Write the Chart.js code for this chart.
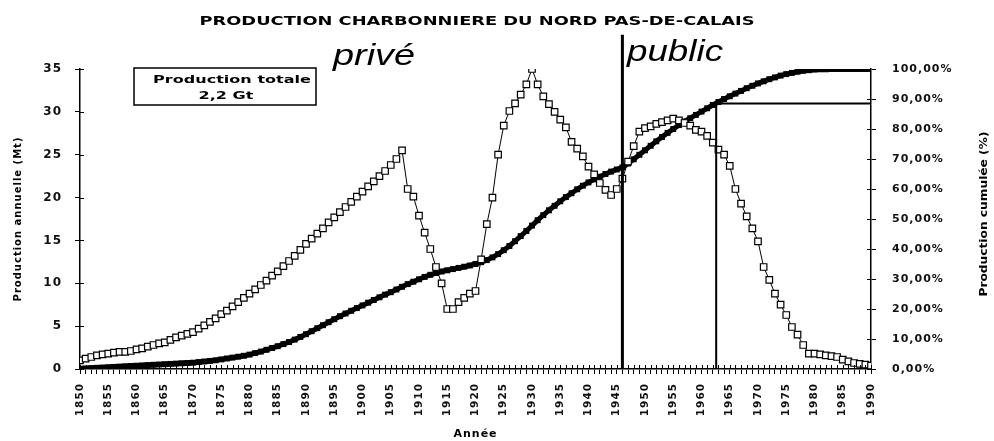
<!DOCTYPE html>
<html>
<head>
<meta charset="utf-8">
<script src="https://cdn.jsdelivr.net/npm/chart.js@4/dist/chart.umd.min.js"></script>
<style>
  html, body { margin: 0; padding: 0; background: #fff; }
  canvas { display: block; }
</style>
</head>
<body>
<canvas id="chart" width="994" height="441"></canvas>
<script>
// years 1850..1990, one value per year
const firstYear = 1850;
const lastYear = 1990;

// annual production (Mt), open squares
const production = [
  1.0, 1.2, 1.4, 1.6, 1.7, 1.8, 1.9, 2.0, 2.0, 2.1,
  2.3, 2.4, 2.6, 2.8, 3.0, 3.1, 3.4, 3.7, 3.9, 4.1,
  4.3, 4.7, 5.1, 5.5, 5.9, 6.4, 6.8, 7.3, 7.8, 8.3,
  8.8, 9.3, 9.8, 10.3, 10.9, 11.4, 12.0, 12.6, 13.2, 13.9,
  14.6, 15.2, 15.8, 16.4, 17.1, 17.7, 18.3, 18.9, 19.5, 20.1,
  20.7, 21.3, 21.9, 22.5, 23.1, 23.8, 24.5, 25.5, 21.0, 20.1,
  17.9, 15.9, 14.0, 11.9, 10.0, 7.0, 7.0, 7.8, 8.3, 8.8,
  9.1, 12.8, 16.9, 20.0, 25.0, 28.4, 30.1, 31.0, 32.0, 33.2,
  35.0, 33.2, 31.8, 30.9, 30.0, 29.1, 28.2, 26.5, 25.7, 24.8,
  23.6, 22.7, 21.7, 20.9, 20.3, 21.0, 22.2, 24.2, 26.0, 27.7,
  28.1, 28.3, 28.6, 28.8, 29.0, 29.2, 29.0, 28.7, 28.4, 27.9,
  27.7, 27.2, 26.4, 25.6, 25.0, 23.7, 21.0, 19.3, 17.8, 16.4,
  14.9, 11.9, 10.4, 8.8, 7.5, 6.3, 4.9, 4.0, 2.8, 1.8,
  1.8, 1.7, 1.6, 1.5, 1.4, 1.1, 0.9, 0.7, 0.6, 0.5,
  0.4
];

// cumulative production (%), filled black curve
const cumulative = [
  0.1, 0.2, 0.3, 0.4, 0.5, 0.6, 0.7, 0.8, 0.9, 1.0,
  1.1, 1.2, 1.3, 1.4, 1.5, 1.6, 1.7, 1.8, 1.9, 2.0,
  2.1, 2.3, 2.5, 2.7, 2.9, 3.2, 3.5, 3.8, 4.1, 4.4,
  4.8, 5.3, 5.8, 6.4, 7.0, 7.6, 8.3, 9.0, 9.8, 10.7,
  11.6, 12.6, 13.6, 14.6, 15.6, 16.6, 17.6, 18.5, 19.4, 20.3,
  21.2, 22.1, 23.0, 23.9, 24.8, 25.6, 26.5, 27.4, 28.3, 29.1,
  29.9, 30.7, 31.4, 32.0, 32.5, 32.9, 33.3, 33.7, 34.1, 34.5,
  35.0, 35.6, 36.3, 37.2, 38.3, 39.6, 41.0, 42.6, 44.3, 46.0,
  47.8, 49.6, 51.3, 52.9, 54.4, 55.9, 57.3, 58.6, 59.9, 61.1,
  62.2, 63.2, 64.1, 65.0, 65.8, 66.5, 67.2, 68.5, 69.9, 71.4,
  72.9, 74.4, 75.9, 77.3, 78.7, 80.0, 81.3, 82.5, 83.6, 84.7,
  85.8, 86.9, 88.0, 89.0, 90.0, 90.9, 91.8, 92.7, 93.6, 94.4,
  95.2, 95.9, 96.6, 97.2, 97.8, 98.3, 98.7, 99.1, 99.4, 99.6,
  99.8, 99.9, 99.9, 100, 100, 100, 100, 100, 100, 100,
  100
];

// reference lines
const nationalisationYear = 1946;   // privé | public
const nationalisationTop = 39;      // Mt, line runs above the frame
const markerYear = 1962.6;
const markerShare = 88.5;           // %

const leftMax = 35, leftStep = 5;
const rightMax = 100, rightStep = 10;

const FONT = 'DejaVu Sans';
Chart.defaults.font.family = FONT;
Chart.defaults.color = '#111';

const points = (arr) => arr.map((v, i) => ({ x: firstYear + i, y: v }));

// wide, slightly spaced lettering like the scanned original
const spacing = {
  id: 'spacing',
  beforeUpdate(chart) { chart.ctx.letterSpacing = '1px'; },
  beforeLayout(chart) { chart.ctx.letterSpacing = '1px'; },
  beforeDraw(chart) {
    const c = chart.ctx;
    c.letterSpacing = '1px';
    c.save();
    c.fillStyle = '#fff';
    c.fillRect(0, 0, chart.width, chart.height);
    c.restore();
  }
};

// tick marks crossing the axes (inner half)
const innerTicks = {
  id: 'innerTicks',
  afterDraw(chart) {
    const c = chart.ctx, a = chart.chartArea;
    c.save();
    c.strokeStyle = '#000';
    c.lineWidth = 1;
    c.beginPath();
    chart.scales.x.ticks.forEach(t => {
      const px = Math.round(chart.scales.x.getPixelForValue(t.value)) + 0.5;
      c.moveTo(px, a.bottom); c.lineTo(px, a.bottom - 4);
    });
    chart.scales.y.ticks.forEach(t => {
      const py = Math.round(chart.scales.y.getPixelForValue(t.value)) + 0.5;
      c.moveTo(a.left, py); c.lineTo(a.left + 4, py);
    });
    chart.scales.y2.ticks.forEach(t => {
      const py = Math.round(chart.scales.y2.getPixelForValue(t.value)) + 0.5;
      c.moveTo(a.right, py); c.lineTo(a.right - 4, py);
    });
    c.stroke();
    c.restore();
  }
};

function stretchText(c, text, x, y, font, width, align) {
  c.save();
  c.font = font;
  c.letterSpacing = '0px';
  const w = c.measureText(text).width;
  c.translate(x, y);
  c.scale(width / w, 1);
  c.textAlign = align;
  c.fillStyle = '#000';
  c.fillText(text, 0, 0);
  c.restore();
}

const labels = {
  id: 'labels',
  afterDraw(chart) {
    const c = chart.ctx;
    stretchText(c, 'PRODUCTION CHARBONNIERE DU NORD PAS-DE-CALAIS', 477, 25, 'bold 13px "' + FONT + '"', 555, 'center');
    stretchText(c, 'privé', 333, 65, 'italic 30px "Liberation Sans"', 82, 'left');
    stretchText(c, 'public', 627, 61, 'italic 30px "Liberation Sans"', 96, 'left');

    c.save();
    c.strokeStyle = '#000';
    c.lineWidth = 1.5;
    c.strokeRect(134, 68, 182, 37);
    c.restore();
    stretchText(c, 'Production totale', 232, 83, 'bold 11px "' + FONT + '"', 158, 'center');
    stretchText(c, '2,2 Gt', 226, 99, 'bold 11px "' + FONT + '"', 55, 'center');

    c.save();
    c.translate(987, 214);
    c.rotate(-Math.PI / 2);
    stretchText(c, 'Production cumulée (%)', 0, 0, 'bold 10px "' + FONT + '"', 165, 'center');
    c.restore();
  }
};

const cfg = {
  type: 'line',
  data: {
    datasets: [
      {
        label: 'nationalisation',
        data: [{ x: nationalisationYear, y: 0 }, { x: nationalisationYear, y: nationalisationTop }],
        yAxisID: 'y',
        borderColor: '#000',
        borderWidth: 3,
        pointRadius: 0,
        clip: false,
        order: 0
      },
      {
        label: 'repère',
        data: [{ x: markerYear, y: 0 }, { x: markerYear, y: markerShare }, { x: lastYear, y: markerShare }],
        yAxisID: 'y2',
        borderColor: '#000',
        borderWidth: 2,
        pointRadius: 0,
        order: 0
      },
      {
        label: 'Production annuelle (Mt)',
        data: points(production),
        yAxisID: 'y',
        borderColor: '#000',
        borderWidth: 1,
        pointStyle: 'rect',
        pointRadius: 4.6,
        pointBorderWidth: 1.2,
        pointBackgroundColor: '#fff',
        pointBorderColor: '#000',
        order: 1
      },
      {
        label: 'Production cumulée (%)',
        data: points(cumulative),
        yAxisID: 'y2',
        borderColor: '#000',
        borderWidth: 5,
        pointStyle: 'rect',
        pointRadius: 4.2,
        pointBorderWidth: 0,
        pointBackgroundColor: '#000',
        pointBorderColor: '#000',
        order: 2
      }
    ]
  },
  options: {
    responsive: false,
    animation: false,
    devicePixelRatio: 1,
    layout: { padding: { top: 69, left: 0, right: 0, bottom: 0 } },
    plugins: { legend: { display: false }, tooltip: { enabled: false } },
    scales: {
      x: {
        type: 'linear',
        min: firstYear,
        max: lastYear,
        afterFit: (s) => { s.height = 72; },
        ticks: {
          stepSize: 1,
          autoSkip: false,
          minRotation: 90,
          maxRotation: 90,
          padding: 9,
          color: '#111',
          font: { weight: 'bold', size: 10.5 },
          callback: (v) => (v % 5 === 0 ? String(v) : '')
        },
        grid: { drawOnChartArea: false, tickLength: 5, color: '#000' },
        border: { color: '#000', width: 1.5 },
        title: {
          display: true,
          text: 'Année',
          color: '#000',
          font: { weight: 'bold', size: 11 },
          padding: { top: 0, bottom: 0 }
        }
      },
      y: {
        position: 'left',
        min: 0,
        max: leftMax,
        afterFit: (s) => { s.width = 80; },
        ticks: { stepSize: leftStep, padding: 13, color: '#111', font: { weight: 'bold', size: 12 } },
        grid: { drawOnChartArea: false, tickLength: 5, color: '#000' },
        border: { color: '#000', width: 1.5 },
        title: {
          display: true,
          text: 'Production annuelle (Mt)',
          color: '#000',
          font: { weight: 'bold', size: 10 },
          padding: { top: 12, bottom: 0 }
        }
      },
      y2: {
        position: 'right',
        min: 0,
        max: rightMax,
        afterFit: (s) => { s.width = 123; },
        ticks: {
          stepSize: rightStep,
          padding: 16,
          color: '#111',
          font: { weight: 'bold', size: 11 },
          callback: (v) => v.toFixed(2).replace('.', ',') + '%'
        },
        grid: { drawOnChartArea: false, tickLength: 5, color: '#000' },
        border: { color: '#000', width: 1.5 }
      }
    }
  },
  plugins: [spacing, innerTicks, labels]
};

const chart = new Chart(document.getElementById('chart'), cfg);
</script>
</body>
</html>
